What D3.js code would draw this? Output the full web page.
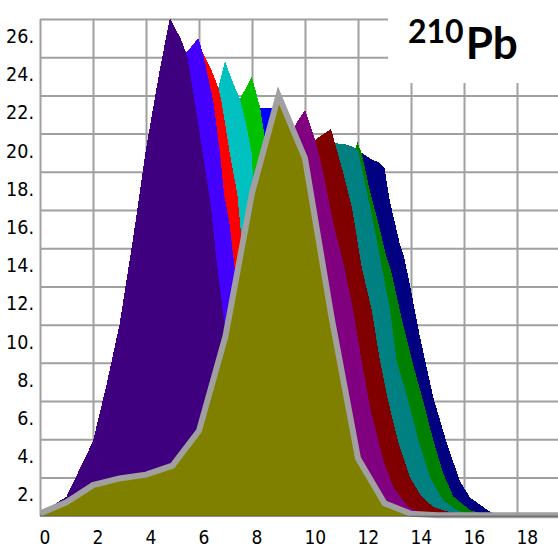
<!DOCTYPE html>
<html><head><meta charset="utf-8">
<script src="https://cdn.jsdelivr.net/npm/d3@7"></script>
<style>body{margin:0;background:#fff}svg{display:block}</style>
</head><body><svg id="c" width="558" height="548"></svg>
<script>
const xTicks=[0,2,4,6,8,10,12,14,16,18];
const yTicks=[2,4,6,8,10,12,14,16,18,20,22,24,26];

// series, listed back to front: [x, value]
const sNavy=[[0,0],[7,0.2],[8,0.6],[9,1.5],[10,4],[11,9],[11.5,13.5],[12,18.9],[12.14,19.0],[12.45,18.7],[12.77,18.5],[13.0,18.2],[13.08,17.5],[13.21,16.4],[13.4,15.3],[13.58,14.2],[13.71,13.7],[13.9,12.5],[14.34,9.35],[14.84,6.2],[15.35,3.8],[15.85,1.8],[16.23,0.95],[16.9,0.29],[17.2,0.05],[17.5,0]];
const sDkGreen=[[0,0],[6,0.2],[7,0.6],[8,1.5],[9,3.5],[10,7.5],[11,14],[11.5,17.5],[11.98,19.55],[12.14,18.95],[12.45,17.0],[12.77,15.3],[13.08,13.5],[13.25,12.8],[13.7,10.0],[14.1,7.8],[14.46,6.0],[14.84,3.95],[15.22,2.2],[15.6,1.0],[16.23,0.29],[16.8,0.05],[17.5,0]];
const sTeal=[[0,0],[5,0.2],[6,0.6],[7,1.5],[8,3.5],[9,7],[10,12.5],[10.7,17],[11.13,19.5],[11.5,19.45],[11.85,19.3],[12.02,19.0],[12.33,17.0],[12.64,14.9],[12.9,13.0],[13.21,10.75],[13.46,8.1],[13.9,6.0],[14.28,3.95],[14.72,2.0],[15.22,0.8],[15.72,0.29],[16.3,0.05],[17,0]];
const sMaroon=[[0,0],[4,0.2],[5,0.5],[6,1.2],[7,3],[8,6],[9,11],[10,17],[10.4,19.7],[10.98,20.25],[11.13,19.5],[11.45,17.9],[11.77,16.15],[12.14,13.0],[12.52,10.75],[12.83,8.1],[13.14,6.0],[13.5,3.95],[13.96,2.0],[14.4,1.0],[14.84,0.46],[15.3,0.25],[16,0.05],[17,0]];
const sPurple=[[0,0],[3,0.2],[4,0.6],[5,1.5],[6,3.5],[7,7],[8,12],[9,17.5],[9.65,20.5],[10,21.25],[10.38,19.7],[10.7,17.9],[11.07,15.3],[11.45,13.2],[11.82,10.75],[12.14,8.1],[12.45,5.7],[12.77,3.95],[12.95,2.9],[13.33,1.5],[13.9,0.46],[14.3,0.2],[15,0.05],[16,0]];
const sBlue=[[0,0],[2,0.2],[3,0.6],[4,1.5],[5,4],[6,9],[7,15],[7.5,18.5],[8,20.8],[8.3,21.35],[8.75,21.35],[9,19.5],[9.5,14],[10,9],[11,3],[12,0.7],[13,0.1],[14,0]];
const sGreen=[[0,0],[1,0.05],[2,0.3],[3,1],[4,2.5],[5,6],[6,12],[6.5,16],[7,19.5],[7.55,21.8],[7.99,23.0],[8.3,21.4],[8.45,20.1],[8.7,17.5],[9,14],[9.5,9],[10,5],[11,1.5],[12,0.3],[13,0.05],[14,0]];
const sCyan=[[0,0],[1,0.15],[2,0.6],[3,1.8],[4,4.5],[5,10],[5.5,14],[6,18.5],[6.5,21.5],[6.73,22.4],[6.98,23.8],[7.3,22.6],[7.55,21.8],[7.75,20.7],[7.99,18.95],[8.05,17.3],[8.3,15],[8.6,12],[9,8.5],[9.5,5],[10,2.8],[11,0.8],[12,0.15],[13,0]];
const sRed=[[0,0.02],[1,0.3],[2,1.2],[3,3.5],[4,9],[5,17],[5.5,21.5],[6.1,24.35],[6.48,23.3],[6.73,22.4],[6.86,21.6],[7.17,18.9],[7.45,16.8],[7.55,15.3],[7.7,13],[8,10],[8.5,6],[9,3.2],[10,1],[11,0.2],[12,0]];
const sViolet=[[0,0.05],[1,0.5],[2,1.8],[3,5],[4,12],[4.5,17],[5,21.5],[5.5,24.2],[5.97,25.0],[6.15,24.2],[6.55,21.6],[6.8,18.9],[6.95,16.8],[7.15,15.3],[7.3,13.5],[7.6,10],[8,6.5],[8.5,3.5],[9,1.8],[10,0.5],[11,0.1],[12,0]];
const sIndigo=[[0,0.1],[1,1.0],[2,3.9],[2.5,6.8],[3,10.0],[3.5,14.4],[4,19.2],[4.5,23.2],[4.9,26.05],[5.3,25.0],[5.55,24.1],[5.85,21.6],[6.15,18.9],[6.45,16.2],[6.65,13.5],[6.8,11.8],[6.95,10.2],[7.3,6.5],[7.7,3.8],[8,2.4],[8.5,1.2],[9,0.6],[10,0.2],[11,0.05],[12,0]];
const sOlive=[[0,0.12],[1,0.7],[2,1.6],[3,1.95],[4,2.15],[5,2.62],[6,4.45],[7,9.4],[8,16.9],[9,22.0],[10,18.7],[11,10.4],[12,3.0],[13,0.65],[14,0.1],[15,0.03],[16,0.02],[17,0.02],[18,0.02],[19,0.02],[19.7,0.02]];

const seriesData=[sNavy,sDkGreen,sTeal,sMaroon,sPurple,sBlue,sGreen,sCyan,sRed,sViolet,sIndigo,sOlive];
const seriesColors=["#000080","#008000","#008080","#800000","#800080","#0000ff","#00c000","#00c0c0","#ff0000","#4400ff","#3f007f","#808000"];
const titleMass="210", titleElem="Pb";

const W=558,H=548;
const svg=d3.select("#c");
const x=d3.scaleLinear().domain([0,18]).range([40,517]);
const y=d3.scaleLinear().domain([0,26]).range([515.7,19]);
const gridColor="#a0a0a0";

// grid via axes
svg.append("g").attr("transform","translate(40,0)")
  .call(d3.axisRight(y).tickValues(yTicks).tickSize(W-40).tickFormat(""))
  .call(g=>g.select(".domain").remove())
  .call(g=>g.selectAll("line").attr("stroke",gridColor).attr("stroke-width",2));
svg.append("g").attr("transform",`translate(0,${y(26)})`)
  .call(d3.axisBottom(x).tickValues(xTicks).tickSize(y(0)-y(26)).tickFormat(""))
  .call(g=>g.select(".domain").remove())
  .call(g=>g.selectAll("line").attr("stroke",gridColor).attr("stroke-width",2));

// title box
svg.append("rect").attr("x",388).attr("y",0).attr("width",W-388).attr("height",83).attr("fill","#fff");

svg.append("clipPath").attr("id","pc").append("rect").attr("x",40).attr("y",0).attr("width",W-40).attr("height",y(0)+6);

const area=d3.area().x(d=>x(d[0])).y0(y(0)).y1(d=>y(d[1]));
const gA=svg.append("g").attr("clip-path","url(#pc)");
seriesData.forEach((s,i)=>{
  gA.append("path").datum(s).attr("d",area).attr("fill",seriesColors[i]).attr("shape-rendering","crispEdges");
});
// axis line
svg.append("line").attr("x1",40).attr("x2",W).attr("y1",y(0)+0.5).attr("y2",y(0)+0.5).attr("stroke","#5a5a5a").attr("stroke-width",1);
// outline of highlighted series
gA.append("path").datum(sOlive).attr("d",d3.line().x(d=>x(d[0])).y(d=>y(d[1])))
  .attr("fill","none").attr("stroke","#a0a0a0").attr("stroke-width",6).attr("stroke-linejoin","miter");

const fontF='"Liberation Sans Narrow","Arial Narrow","DejaVu Sans Condensed",sans-serif';
svg.append("g").attr("transform","translate(34,0)")
  .call(d3.axisLeft(y).tickValues(yTicks).tickSize(0).tickPadding(0).tickFormat(d=>d+"."))
  .call(g=>g.select(".domain").remove())
  .call(g=>g.selectAll("text").attr("dy",null).attr("x",0).attr("y",23.5)
     .attr("font-family",fontF).attr("font-size",19.5).attr("fill","#000").attr("text-anchor","end"));
svg.append("g").attr("transform","translate(0,543.5)")
  .call(d3.axisBottom(x).tickValues(xTicks).tickSize(0).tickPadding(0).tickFormat(d=>d))
  .call(g=>g.select(".domain").remove())
  .call(g=>g.selectAll("text").attr("dy",null).attr("y",0).attr("x",-1)
     .attr("font-family",fontF).attr("font-size",19).attr("fill","#000").attr("text-anchor","start"));

const t=svg.append("text").attr("x",408).attr("y",59).attr("font-family","Lato,'Open Sans',sans-serif").attr("font-weight","bold").attr("fill","#000");
t.append("tspan").attr("y",43).attr("font-size",32).text(titleMass);
t.append("tspan").attr("y",59).attr("dx",2).attr("font-size",44).text(titleElem);
</script></body></html>
